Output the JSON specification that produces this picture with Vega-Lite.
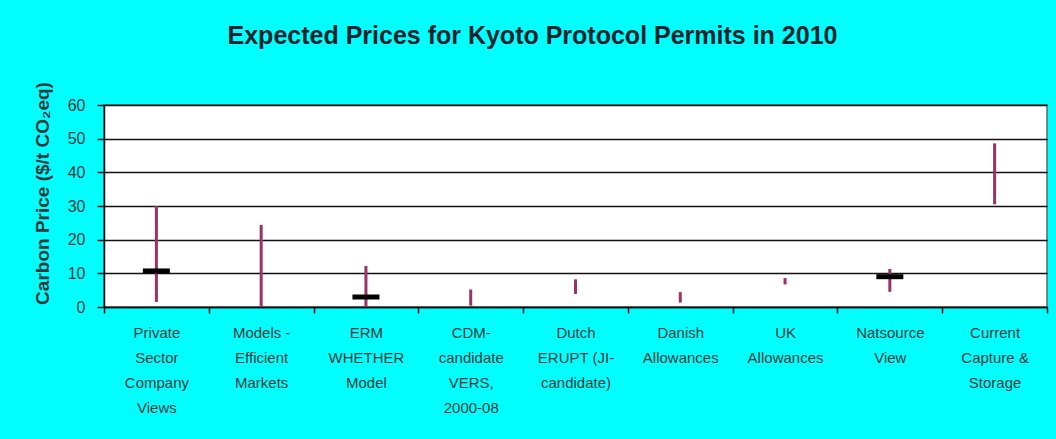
{
  "$schema": "https://vega.github.io/schema/vega-lite/v6.json",
  "autosize": "none",
  "width": 943,
  "height": 202,
  "padding": {"left": 104, "top": 105, "right": 9, "bottom": 132},
  "background": "#00FFFF",
  "view": {"fill": "white", "stroke": "#666666", "strokeWidth": 1.5},
  "title": {
    "text": "Expected Prices for Kyoto Protocol Permits in 2010",
    "font": "Liberation Sans",
    "fontSize": 25,
    "fontWeight": "bold",
    "color": "#14242e",
    "anchor": "middle",
    "dx": -43,
    "offset": 33
  },
  "resolve": {"axis": {"y": "independent"}},
  "data": {
    "values": [
      {"cat": "Private|Sector|Company|Views", "lo": 1.5, "hi": 30, "mid": 10.7},
      {"cat": "Models -|Efficient|Markets", "lo": 0, "hi": 24.4, "mid": null},
      {"cat": "ERM|WHETHER|Model", "lo": 0, "hi": 12.2, "mid": 3.0},
      {"cat": "CDM-|candidate|VERS,|2000-08", "lo": 0.4, "hi": 5.2, "mid": null},
      {"cat": "Dutch|ERUPT (JI-|candidate)", "lo": 3.9, "hi": 8.2, "mid": null},
      {"cat": "Danish|Allowances", "lo": 1.3, "hi": 4.4, "mid": null},
      {"cat": "UK|Allowances", "lo": 6.7, "hi": 8.6, "mid": null},
      {"cat": "Natsource|View", "lo": 4.5, "hi": 11.3, "mid": 9.0},
      {"cat": "Current|Capture &|Storage", "lo": 30.5, "hi": 48.6, "mid": null}
    ]
  },
  "encoding": {
    "x": {
      "field": "cat",
      "type": "nominal",
      "sort": null,
      "scale": {"paddingInner": 0, "paddingOuter": 0},
      "axis": {
        "title": null,
        "labelAngle": 0,
        "labelExpr": "split(datum.label, '|')",
        "labelFont": "Liberation Sans",
        "labelFontSize": 15,
        "labelColor": "#2a3a3a",
        "labelLineHeight": 25,
        "labelPadding": 12,
        "labelLimit": 200,
        "tickBand": "extent",
        "tickSize": 6,
        "tickColor": "#111111",
        "tickWidth": 1.5,
        "domainColor": "#111111",
        "domainWidth": 1.5
      }
    }
  },
  "layer": [
    {
      "mark": {"type": "rule", "color": "#993366", "strokeWidth": 3},
      "encoding": {
        "y": {
          "field": "lo",
          "type": "quantitative",
          "scale": {"domain": [0, 60], "nice": false},
          "axis": {
            "title": "Carbon Price ($/t CO₂eq)",
            "titleFont": "Liberation Sans",
            "titleFontSize": 19,
            "titleFontWeight": "bold",
            "titleColor": "#2a3a3a",
            "titleX": -52,
            "titleY": 88,
            "values": [0, 10, 20, 30, 40, 50, 60],
            "labelFont": "Liberation Sans",
            "labelFontSize": 16,
            "labelColor": "#2a3a3a",
            "labelPadding": 12,
            "labelOverlap": false,
            "tickSize": 7,
            "tickColor": "#111111",
            "tickWidth": 1.5,
            "domainColor": "#111111",
            "domainWidth": 1.5,
            "grid": true,
            "gridColor": "#111111",
            "gridWidth": 1.5
          }
        },
        "y2": {"field": "hi"}
      }
    },
    {
      "transform": [{"filter": "datum.mid != null"}],
      "mark": {"type": "tick", "color": "black", "size": 27, "thickness": 5, "opacity": 1},
      "encoding": {
        "y": {"field": "mid", "type": "quantitative", "axis": null}
      }
    }
  ]
}
